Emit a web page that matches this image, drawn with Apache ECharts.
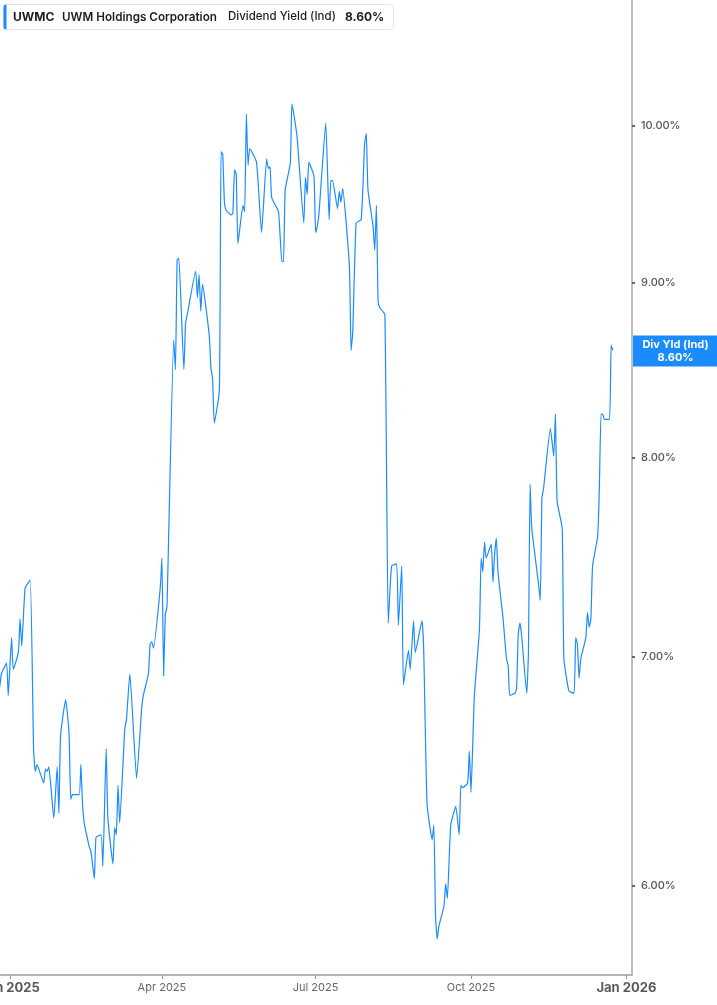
<!DOCTYPE html>
<html>
<head>
<meta charset="utf-8">
<script src="https://cdn.jsdelivr.net/npm/echarts@6/dist/echarts.min.js"></script>
<style>
  html, body { margin: 0; padding: 0; background: #fff; }
  #main { width: 717px; height: 1005px; }
</style>
</head>
<body>
<div id="main"></div>
<script>
// dividend yield (%), one line per month
var dates = [
  '2024-12-26','2024-12-27','2024-12-30','2024-12-31',
  '2025-01-02','2025-01-03','2025-01-06','2025-01-07','2025-01-08','2025-01-10','2025-01-13','2025-01-15','2025-01-16','2025-01-17','2025-01-21','2025-01-22','2025-01-23','2025-01-24','2025-01-27','2025-01-29','2025-01-30','2025-01-31',
  '2025-02-03','2025-02-05','2025-02-06','2025-02-07','2025-02-11','2025-02-12','2025-02-13','2025-02-14','2025-02-17','2025-02-18','2025-02-20','2025-02-21','2025-02-24','2025-02-25','2025-02-27','2025-02-28',
  '2025-03-03','2025-03-04','2025-03-05','2025-03-06','2025-03-07','2025-03-10','2025-03-11','2025-03-13','2025-03-17','2025-03-20','2025-03-21','2025-03-24','2025-03-25','2025-03-26','2025-03-27','2025-03-31',
  '2025-04-01','2025-04-02','2025-04-03','2025-04-04','2025-04-08','2025-04-09','2025-04-10','2025-04-11','2025-04-14','2025-04-15','2025-04-16','2025-04-21','2025-04-22','2025-04-23','2025-04-24','2025-04-25','2025-04-29','2025-04-30',
  '2025-05-01','2025-05-02','2025-05-05','2025-05-06','2025-05-07','2025-05-08','2025-05-09','2025-05-12','2025-05-13','2025-05-14','2025-05-15','2025-05-16','2025-05-19','2025-05-20','2025-05-21','2025-05-22','2025-05-23','2025-05-27','2025-05-30',
  '2025-06-02','2025-06-03','2025-06-04','2025-06-05','2025-06-09','2025-06-11','2025-06-12','2025-06-13','2025-06-16','2025-06-17','2025-06-20','2025-06-24','2025-06-25','2025-06-26','2025-06-27','2025-06-30',
  '2025-07-01','2025-07-02','2025-07-03','2025-07-07','2025-07-09','2025-07-10','2025-07-11','2025-07-14','2025-07-15','2025-07-16','2025-07-17','2025-07-21','2025-07-22','2025-07-23','2025-07-25','2025-07-28','2025-07-30','2025-07-31',
  '2025-08-01','2025-08-04','2025-08-05','2025-08-06','2025-08-07','2025-08-08','2025-08-11','2025-08-13','2025-08-15','2025-08-18','2025-08-19','2025-08-21','2025-08-22','2025-08-25','2025-08-26','2025-08-28','2025-08-29',
  '2025-09-02','2025-09-03','2025-09-05','2025-09-08','2025-09-09','2025-09-10','2025-09-11','2025-09-12','2025-09-15','2025-09-16','2025-09-17','2025-09-19','2025-09-22','2025-09-24','2025-09-25','2025-09-26','2025-09-29','2025-09-30',
  '2025-10-01','2025-10-02','2025-10-03','2025-10-06','2025-10-07','2025-10-08','2025-10-09','2025-10-10','2025-10-13','2025-10-14','2025-10-15','2025-10-16','2025-10-17','2025-10-20','2025-10-22','2025-10-23','2025-10-24','2025-10-27','2025-10-28','2025-10-29','2025-10-30','2025-10-31',
  '2025-11-03','2025-11-04','2025-11-05','2025-11-06','2025-11-10','2025-11-11','2025-11-12','2025-11-13','2025-11-17','2025-11-19','2025-11-20','2025-11-21','2025-11-24','2025-11-25','2025-11-28',
  '2025-12-01','2025-12-02','2025-12-03','2025-12-04','2025-12-05','2025-12-08','2025-12-09','2025-12-10','2025-12-11','2025-12-12','2025-12-15','2025-12-16','2025-12-17','2025-12-18','2025-12-19','2025-12-22','2025-12-23','2025-12-24'
];
var yields = [
  6.86, 6.92, 6.97, 6.82,
  7.09, 6.94, 7.02, 7.18, 7.05, 7.33, 7.37, 6.58, 6.48, 6.51, 6.43, 6.49, 6.48, 6.50, 6.28, 6.50, 6.30, 6.64,
  6.80, 6.65, 6.36, 6.38, 6.38, 6.51, 6.34, 6.26, 6.16, 6.14, 6.03, 6.20, 6.21, 6.08, 6.58, 6.28,
  6.09, 6.24, 6.21, 6.42, 6.26, 6.67, 6.71, 6.92, 6.45, 6.76, 6.82, 6.92, 7.06, 7.07, 7.04, 7.33,
  7.48, 6.91, 7.20, 7.24, 8.66, 8.49, 9.14, 9.15, 8.49, 8.76, 8.81, 9.07, 8.91, 9.05, 8.83, 8.99, 8.69, 8.50,
  8.44, 8.19, 8.37, 9.83, 9.81, 9.50, 9.45, 9.42, 9.43, 9.71, 9.68, 9.24, 9.48, 9.44, 10.08, 9.74, 9.85, 9.76, 9.31,
  9.78, 9.72, 9.73, 9.53, 9.44, 9.13, 9.13, 9.58, 9.75, 10.15, 9.93, 9.37, 9.66, 9.55, 9.76, 9.67,
  9.31, 9.35, 9.43, 10.02, 9.39, 9.64, 9.64, 9.46, 9.57, 9.50, 9.59, 9.10, 8.60, 8.71, 9.37, 9.39, 9.88, 9.95,
  9.58, 9.35, 9.20, 9.48, 8.89, 8.85, 8.81, 7.16, 7.44, 7.45, 7.15, 7.44, 6.87, 7.03, 6.94, 7.17, 7.02,
  7.17, 7.03, 6.34, 6.19, 6.25, 5.88, 5.79, 5.84, 5.92, 6.01, 5.95, 6.25, 6.33, 6.21, 6.42, 6.41, 6.43, 6.57,
  6.39, 6.59, 6.82, 7.13, 7.48, 7.41, 7.56, 7.48, 7.55, 7.36, 7.50, 7.58, 7.41, 7.18, 6.99, 6.96, 6.82, 6.83, 6.85, 7.11, 7.16, 7.10,
  6.83, 7.02, 7.86, 7.63, 7.35, 7.27, 7.79, 7.84, 8.16, 8.01, 8.24, 7.77, 7.63, 6.99, 6.84,
  6.83, 7.09, 7.06, 6.90, 6.99, 7.09, 7.21, 7.14, 7.18, 7.44, 7.59, 7.84, 8.24, 8.24, 8.21, 8.21, 8.63, 8.60
];

var yTicks = [6, 7, 8, 9, 10];
var xTickDates = ['2025-01-01', '2025-04-01', '2025-07-01', '2025-10-01', '2026-01-01'];
var xTickLabels = ['Jan 2025', 'Apr 2025', 'Jul 2025', 'Oct 2025', 'Jan 2026'];
var lastYield = yields[yields.length - 1];

var FONT = 'Inter, "Noto Sans", sans-serif';
var BLUE = '#1a8cff';

// days since 2025-01-01 (UTC, so no DST drift)
function day(s) {
  var p = s.split(/[- :]/).map(Number);
  return (Date.UTC(p[0], p[1] - 1, p[2], p[3] || 0) - Date.UTC(2025, 0, 1)) / 86400000;
}

// x: day number on a value axis; y: ln(yield) so the axis reads logarithmic
var lineData = dates.map(function (d, i) { return [day(d), Math.log(yields[i])]; });
var xTickDays = xTickDates.map(day);
var yTickLn = yTicks.map(Math.log);

var myChart = echarts.init(document.getElementById('main'));

var option = {
  animation: false,
  backgroundColor: '#fff',
  grid: { left: 0, right: 85, top: 0, bottom: 30, containLabel: false, outerBoundsMode: 'none' },
  xAxis: {
    type: 'value',
    min: day('2024-12-26 03'),
    max: day('2026-01-04 08'),
    axisLine: { show: true, onZero: false, lineStyle: { color: '#b5b5b5', width: 2 } },
    axisTick: { show: true, customValues: xTickDays, length: 4, lineStyle: { color: '#999' } },
    splitLine: { show: false },
    axisLabel: {
      customValues: xTickDays,
      margin: 7,
      formatter: function (v) {
        var i = xTickDays.indexOf(v);
        if (i < 0) return '';
        return (xTickLabels[i].indexOf('Jan') === 0 ? '{y|' : '{m|') + xTickLabels[i] + '}';
      },
      rich: {
        y: { fontFamily: FONT, fontSize: 13, fontWeight: 'bold', color: '#5a5a5a' },
        m: { fontFamily: FONT, fontSize: 11, color: '#666' }
      }
    }
  },
  yAxis: {
    type: 'value',
    position: 'right',
    min: 1.731944,
    max: 2.387275,
    axisLine: { show: true, onZero: false, lineStyle: { color: '#a8a8a8', width: 1.5 } },
    axisTick: { show: true, customValues: yTickLn, length: 3, lineStyle: { color: '#666', width: 2 } },
    splitLine: { show: false },
    axisLabel: {
      customValues: yTickLn,
      margin: 9,
      fontFamily: FONT,
      fontSize: 11,
      fontWeight: 500,
      color: '#555',
      formatter: function (v) { return Math.exp(v).toFixed(2) + '%'; }
    }
  },
  graphic: [
    { type: 'rect', shape: { x: 3.5, y: 4.5, width: 390, height: 25, r: 3 },
      style: { fill: '#fff', stroke: '#e4e4e4', lineWidth: 1 }, z: 10 },
    { type: 'rect', shape: { x: 3.5, y: 4.5, width: 3, height: 25, r: [3, 0, 0, 3] },
      style: { fill: BLUE }, z: 11 },
    { type: 'text', x: 13, y: 17, z: 11,
      style: { text: 'UWMC', font: 'bold 12px ' + FONT, fill: '#1d1d1d', verticalAlign: 'middle' } },
    { type: 'text', x: 62, y: 17, z: 11,
      style: { text: 'UWM Holdings Corporation', font: '600 11.7px ' + FONT, fill: '#1d1d1d', verticalAlign: 'middle' } },
    { type: 'text', x: 228, y: 17, z: 11,
      style: { text: 'Dividend Yield (Ind)', font: '500 11.5px ' + FONT, fill: '#1d1d1d', verticalAlign: 'middle' } },
    { type: 'text', x: 345, y: 17, z: 11,
      style: { text: lastYield.toFixed(2) + '%', font: 'bold 12px ' + FONT, fill: '#1d1d1d', verticalAlign: 'middle' } }
  ],
  series: [
    {
      type: 'line',
      data: lineData,
      showSymbol: false,
      smooth: 0.15,
      clip: false,
      lineStyle: { color: BLUE, width: 1.2 },
      markLine: {
        silent: true,
        symbol: 'none',
        animation: false,
        lineStyle: { color: 'rgba(0,0,0,0)', width: 0 },
        data: [{ yAxis: Math.log(lastYield) }],
        label: {
          show: true,
          position: 'end',
          distance: 1,
          backgroundColor: BLUE,
          padding: [3, 0, 3, 0],
          offset: [0, -2],
          formatter: '{a|Div Yld (Ind)}\n{a|' + lastYield.toFixed(2) + '%}',
          rich: {
            a: { width: 85, align: 'center', color: '#fff', fontWeight: 'bold',
                 fontSize: 11, lineHeight: 12.5, fontFamily: FONT }
          }
        }
      }
    }
  ]
};

myChart.setOption(option);
</script>
</body>
</html>
